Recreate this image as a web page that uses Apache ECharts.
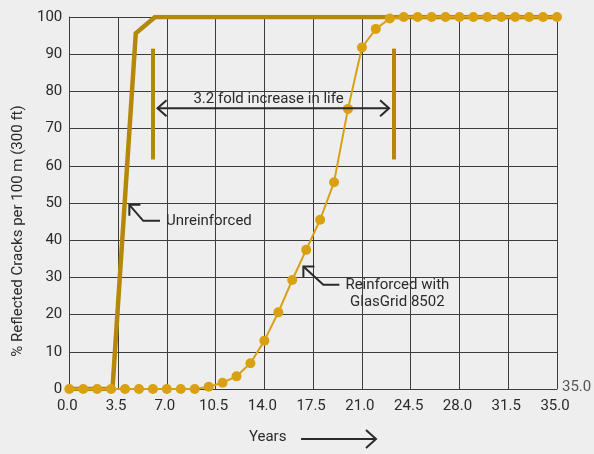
<!DOCTYPE html>
<html>
<head>
<meta charset="utf-8">
<script src="https://cdn.jsdelivr.net/npm/echarts@6/dist/echarts.min.js"></script>
<style>
html,body{margin:0;padding:0;background:#eeeeee;}
#chart{width:594px;height:454px;}
</style>
</head>
<body>
<div id="chart"></div>
<script>
// ---- data ----
const years = [0,1,2,3,4,5,6,7,8,9,10,11,12,13,14,15,16,17,18,19,20,21,22,23,24,25,26,27,28,29,30,31,32,33,34,35];
const reinforced = [0,0,0,0,0,0,0,0,0,0,0.6,1.7,3.4,6.9,13.0,20.6,29.3,37.4,45.5,55.6,75.3,91.8,96.8,99.6,100,100,100,100,100,100,100,100,100,100,100,100];
const unreinforcedX = [0, 3.1, 4.77, 6.15, 35];
const unreinforcedY = [0, 0, 95.6, 100, 100];
const markerBarX = [6, 23.3];
const markerBarY = [61.7, 91.5];
const spanArrowX = [6.33, 22.95];
const spanArrowY = 75.5;
const spanLabel = '3.2 fold increase in life';
const spanLabelPos = [14.3, 77.8];
const unreinfCallout = [[6.51, 45.2], [5.31, 45.2], [4.31, 49.5]];
const unreinfLabel = 'Unreinforced';
const reinfCallout = [[19.38, 28.0], [18.23, 28.0], [16.8, 32.9]];
const reinfLabel = ['Reinforced with', 'GlasGrid 8502'];
const xTitle = 'Years';
const yTitle = '% Reflected Cracks per 100 m (300 ft)';
const strayLabel = '35.0';

const FONT = 'Roboto';
const TXT = '#2a2a2a';
const DARK_GOLD = '#B5880A';
const GOLD = '#D9A012';
const GRIDC = '#3c3c3c';

const chart = echarts.init(document.getElementById('chart'), null, {renderer: 'canvas'});

const option = {
  backgroundColor: '#eeeeee',
  animation: false,
  grid: {left: 69.3, right: 37, top: 17, bottom: 65, containLabel: false},
  xAxis: {
    type: 'value', min: 0, max: 35, interval: 3.5,
    axisLine: {show: true, lineStyle: {color: GRIDC, width: 1}},
    axisTick: {show: false},
    splitLine: {show: true, lineStyle: {color: GRIDC, width: 1}},
    axisLabel: {color: TXT, fontFamily: FONT, fontSize: 15, margin: 10, padding: [0, 4, 0, 0],
      formatter: v => v.toFixed(1)}
  },
  yAxis: {
    type: 'value', min: 0, max: 100, interval: 10,
    axisLine: {show: true, lineStyle: {color: GRIDC, width: 1}},
    axisTick: {show: false},
    splitLine: {show: true, lineStyle: {color: GRIDC, width: 1}},
    axisLabel: {color: TXT, fontFamily: FONT, fontSize: 15, margin: 7}
  },
  series: [
    {
      name: 'Unreinforced', type: 'line',
      data: unreinforcedX.map((x, i) => [x, unreinforcedY[i]]),
      showSymbol: false, symbol: 'none',
      lineStyle: {color: DARK_GOLD, width: 4.5, join: 'miter'},
      itemStyle: {color: DARK_GOLD},
      markLine: {
        silent: true, symbol: ['none', 'none'], label: {show: false},
        lineStyle: {color: DARK_GOLD, width: 4, type: 'solid'},
        data: markerBarX.map(x => [{coord: [x, markerBarY[0]]}, {coord: [x, markerBarY[1]]}])
      },
      z: 2
    },
    {
      name: 'Reinforced with GlasGrid 8502', type: 'line',
      data: years.map((x, i) => [x, reinforced[i]]),
      symbol: 'circle', symbolSize: 10,
      lineStyle: {color: GOLD, width: 2},
      itemStyle: {color: GOLD},
      z: 3
    }
  ]
};
chart.setOption(option);

function P(pt) { return chart.convertToPixel({gridIndex: 0}, pt); }

function buildGraphics() {
  const g = [];
  const stroke = {stroke: TXT, lineWidth: 2, fill: null};
  // span double arrow
  const a0 = P([spanArrowX[0], spanArrowY]);
  const a1 = P([spanArrowX[1], spanArrowY]);
  g.push({type: 'line', shape: {x1: a0[0], y1: a0[1], x2: a1[0], y2: a1[1]}, style: stroke, z: 10});
  g.push({type: 'polyline', shape: {points: [[a0[0] + 9, a0[1] - 8], a0, [a0[0] + 9, a0[1] + 8]]}, style: stroke, z: 10});
  g.push({type: 'polyline', shape: {points: [[a1[0] - 9, a1[1] - 8], a1, [a1[0] - 9, a1[1] + 8]]}, style: stroke, z: 10});
  const sl = P(spanLabelPos);
  g.push({type: 'text', x: sl[0], y: sl[1], style: {text: spanLabel, fill: TXT, font: '15px ' + FONT, align: 'center', verticalAlign: 'middle'}, z: 10});

  function callout(pts, label, lines) {
    const px = pts.map(P);
    g.push({type: 'polyline', shape: {points: px}, style: stroke, z: 10});
    const tip = px[2];
    g.push({type: 'polyline', shape: {points: [[tip[0] + 11, tip[1]], tip, [tip[0], tip[1] + 11]]}, style: stroke, z: 10});
    return px;
  }
  const u = callout(unreinfCallout);
  g.push({type: 'text', x: u[0][0] + 6, y: u[0][1], style: {text: unreinfLabel, fill: TXT, font: '15px ' + FONT, align: 'left', verticalAlign: 'middle'}, z: 10});
  const r = callout(reinfCallout);
  g.push({type: 'text', x: r[0][0] + 58, y: r[0][1], style: {text: reinfLabel[0], fill: TXT, font: '15px ' + FONT, align: 'center', verticalAlign: 'middle'}, z: 10});
  g.push({type: 'text', x: r[0][0] + 58, y: r[0][1] + 17, style: {text: reinfLabel[1], fill: TXT, font: '15px ' + FONT, align: 'center', verticalAlign: 'middle'}, z: 10});

  // x title + arrow
  g.push({type: 'text', x: 267.7, y: 437.5, style: {text: xTitle, fill: TXT, font: '15px ' + FONT, align: 'center', verticalAlign: 'middle'}});
  g.push({type: 'line', shape: {x1: 301, y1: 439, x2: 376, y2: 439}, style: stroke});
  g.push({type: 'polyline', shape: {points: [[366, 430], [376, 439], [366, 448]]}, style: stroke});
  // y title
  g.push({type: 'text', x: 18.3, y: 231, rotation: Math.PI / 2, style: {text: yTitle, fill: TXT, font: '15px ' + FONT, align: 'center', verticalAlign: 'middle'}});
  // stray right-hand label
  const br = P([35, 0]);
  g.push({type: 'text', x: br[0] + 5, y: br[1] - 2, style: {text: strayLabel, fill: '#555', font: '15px ' + FONT, align: 'left', verticalAlign: 'middle'}});
  chart.setOption({graphic: {elements: g}});
}
buildGraphics();
</script>
</body>
</html>
